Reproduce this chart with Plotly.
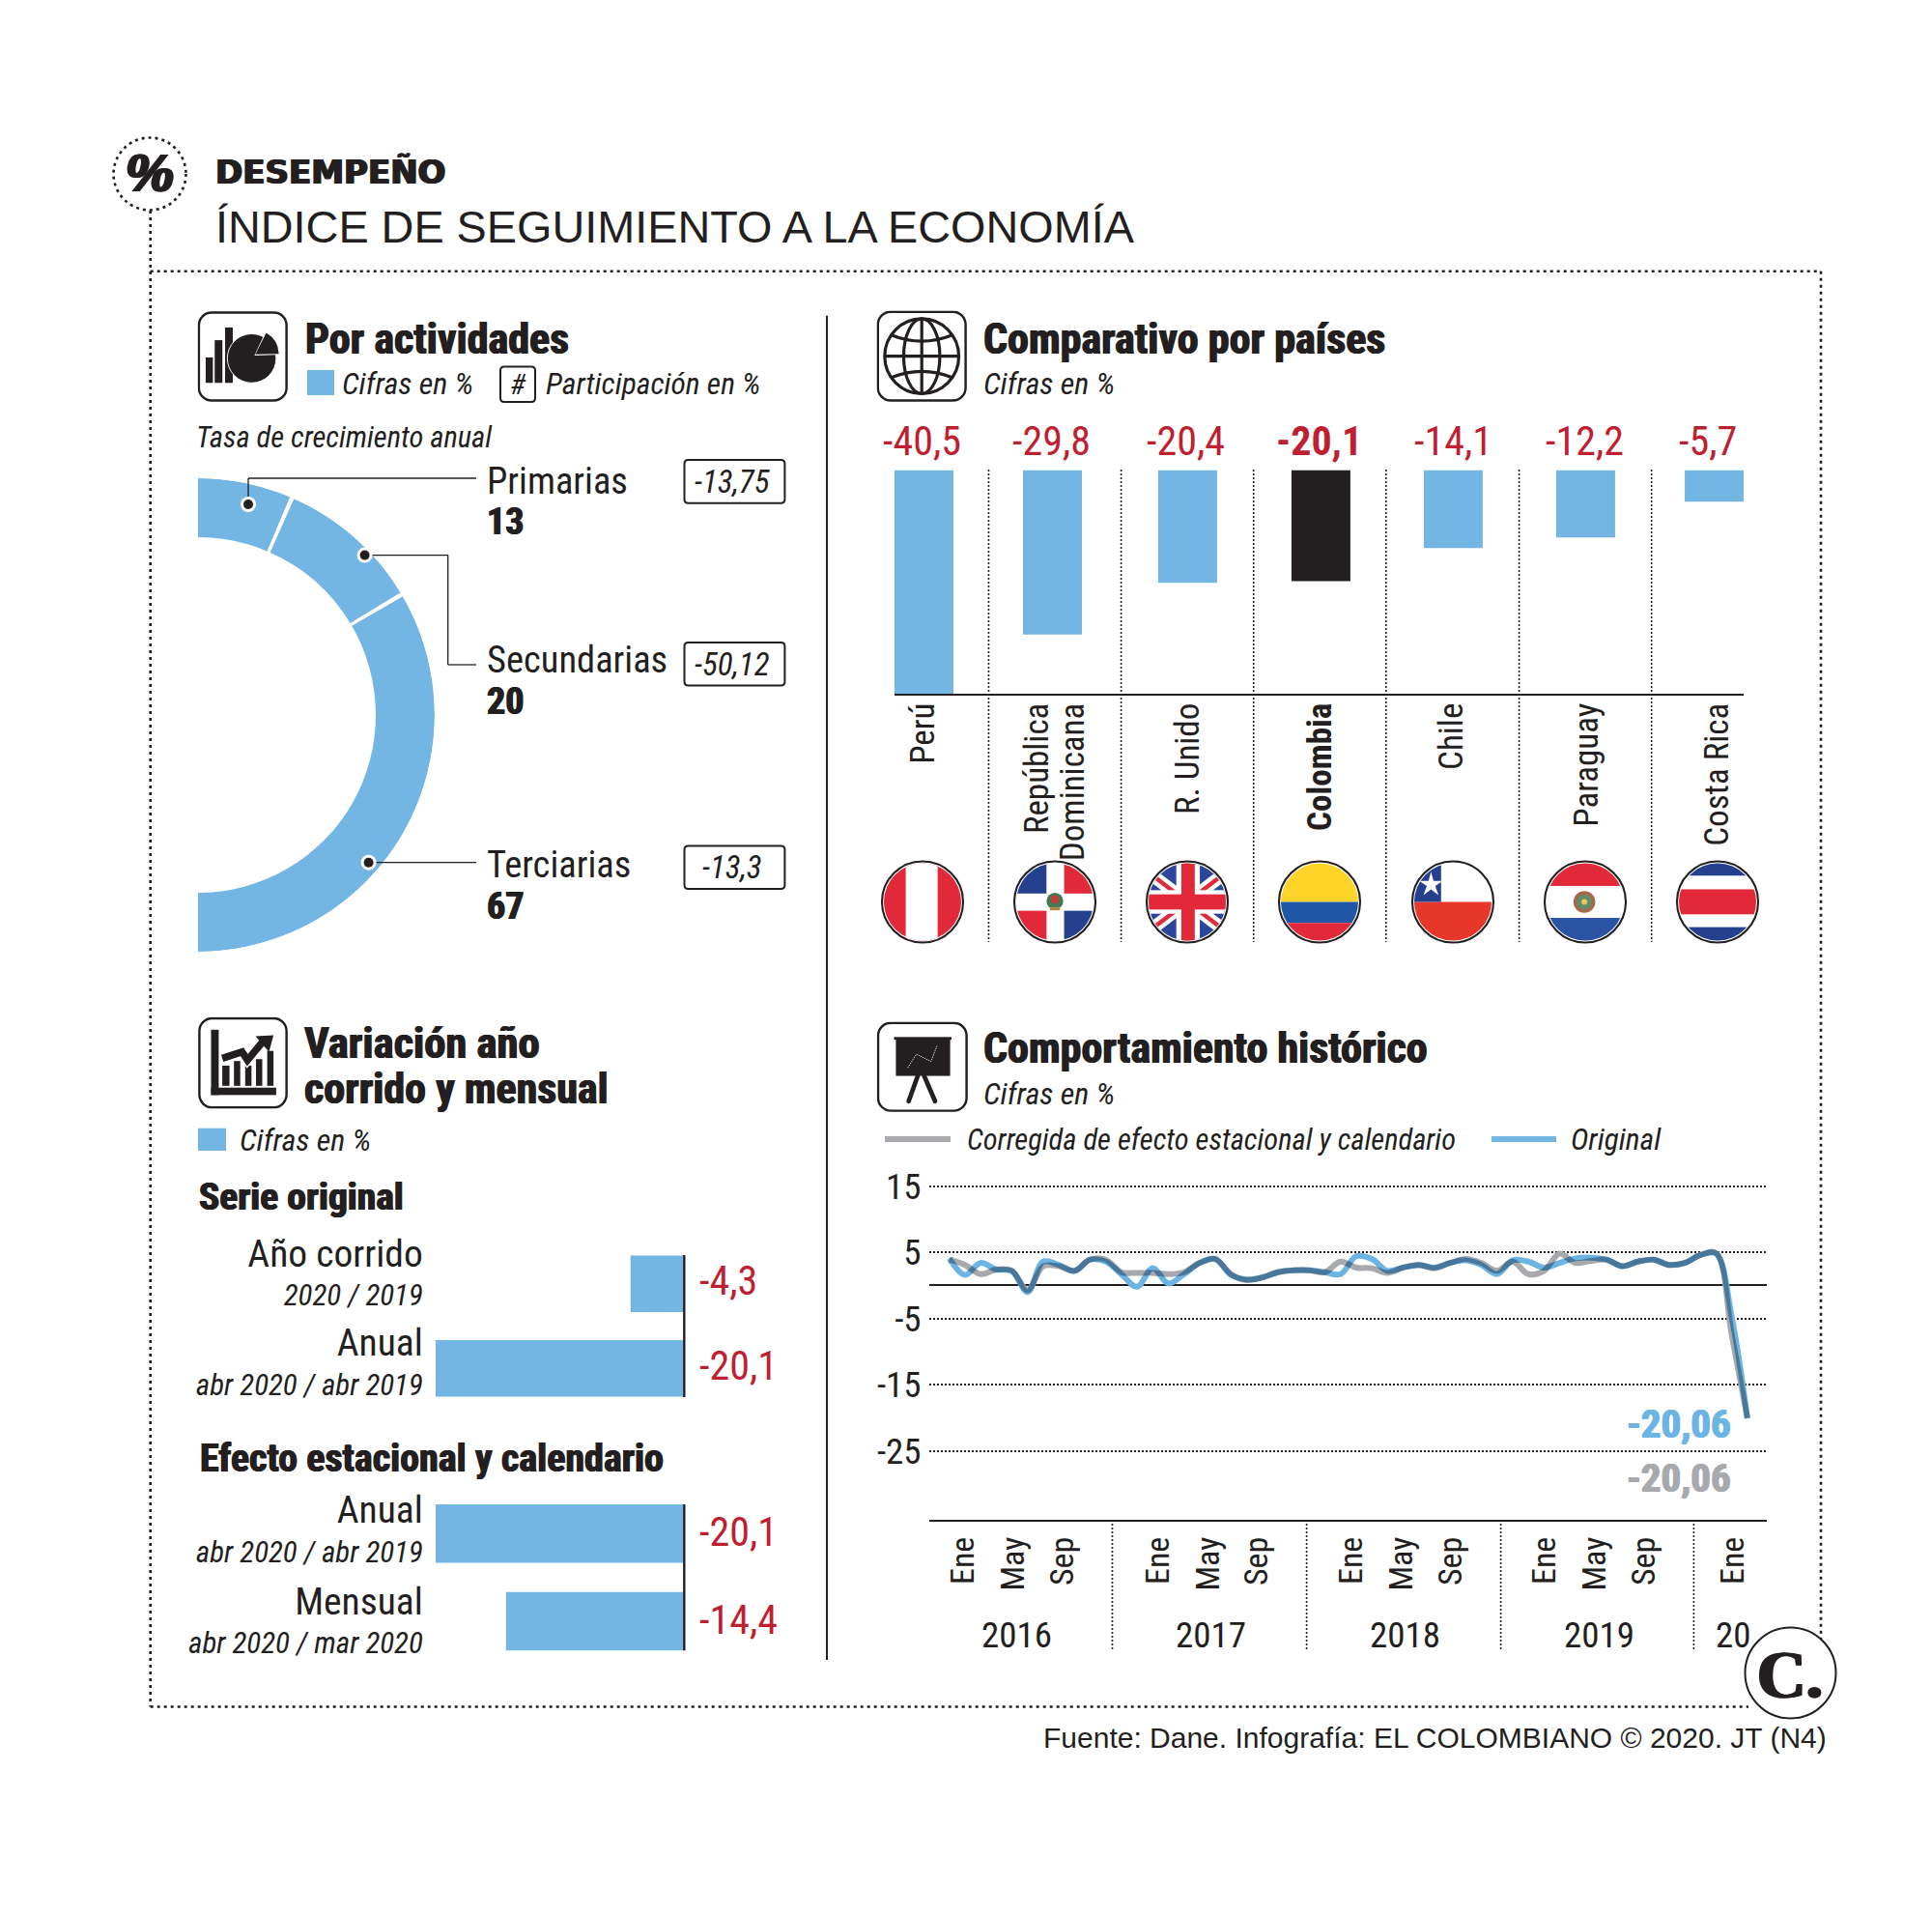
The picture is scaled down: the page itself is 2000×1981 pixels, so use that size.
import base64
import plotly.graph_objects as go

W, H = 2000, 1981
BLUE = "#73B5E3"
INK = "#231F20"
RED = "#BE2031"
GREY = "#A7A9AC"
NARROW = '"Roboto Condensed", Roboto'
SANS = "Liberation Sans"

# ---- data ----
activity_names = ["Primarias", "Secundarias", "Terciarias"]
activity_share = [13, 20, 67]
activity_growth = ["-13,75", "-50,12", "-13,3"]

countries = ["Perú", "República<br>Dominicana", "R. Unido", "<b>Colombia</b>", "Chile", "Paraguay", "Costa Rica"]
country_values = [-40.5, -29.8, -20.4, -20.1, -14.1, -12.2, -5.7]

original_names = ["Año corrido", "Anual"]
original_periods = ["2020 / 2019", "abr 2020 / abr 2019"]
original_values = [-4.3, -20.1]
seasonal_names = ["Anual", "Mensual"]
seasonal_periods = ["abr 2020 / abr 2019", "abr 2020 / mar 2020"]
seasonal_values = [-20.1, -14.4]

hist_original = [4.1, 1.6, 3.4, 2.4, 2.2, -1.0, 3.6, 3.1, 2.2, 3.9, 3.6, 1.7, -0.2, 2.6, 0.3, 1.7,
                 3.4, 4.0, 1.6, 0.9, 1.2, 2.0, 2.3, 2.3, 2.0, 1.7, 4.4, 4.0, 2.2, 2.7, 3.1, 2.7,
                 3.4, 3.8, 3.1, 1.7, 3.8, 3.6, 2.7, 3.4, 4.1, 4.2, 3.9, 2.9, 3.6, 3.9, 3.1, 3.4,
                 4.6, 4.8, -4.8, -20.06]
hist_adjusted = [3.9, 3.1, 1.7, 2.4, 2.2, -0.7, 2.9, 2.9, 2.2, 3.9, 3.9, 2.0, 1.9, 1.9, 1.7, 2.0,
                 3.4, 4.0, 1.7, 0.8, 1.2, 2.0, 2.3, 2.3, 2.0, 3.6, 2.7, 2.6, 1.9, 2.7, 3.1, 2.6,
                 3.4, 4.0, 3.4, 2.2, 3.6, 1.7, 2.2, 4.8, 3.4, 3.7, 3.9, 2.9, 3.6, 3.9, 3.1, 3.4,
                 4.6, 4.9, -7.5, -20.06]
month_ticks = ["Ene", "May", "Sep"] * 4 + ["Ene"]
years = ["2016", "2017", "2018", "2019", "20"]
y_ticks = [15, 5, -5, -15, -25]

# ---- layout slots (axis positions of ticks and labels, not data) ----
month_tick_pos = [0.91, 4.12, 7.21, 13.35, 16.56, 19.65, 25.72, 28.9, 32.03, 38.04, 41.25, 44.4, 50.09]
year_pos = [4.32, 16.7, 29.1, 41.5, 50.09]
country_slots = [0, 0.976, 2.002, 3.014, 4.019, 5.024, 6]
country_tick_slots = [0.01, 1.01, 2.018, 3.02, 4.02, 5.05, 6.04]
country_label_slots = [-0.018, 0.97, 1.99, 3.0, 4.02, 5.02, 5.95]
original_slots = [0, 1]
original_tick_slots = [-0.1, 0.96]
seasonal_slots = [0, 1]
seasonal_tick_slots = [-0.015, 1.02]


def X(p):
    return p / W


def Y(p):
    return 1 - p / H


def fmt(v):
    return f"{v:.1f}".replace(".", ",")


annotations, shapes, images = [], [], []


def txt(x, y, s, size, family=NARROW, color=INK, anchor="left", heavy=False):
    f = dict(family=family, size=size, color=color)
    if heavy:
        w = 0.7 if heavy is True else heavy
        f["shadow"] = f"{w}px 0 0 {color}, -{w}px 0 0 {color}"
    annotations.append(dict(x=X(x), y=Y(y), xref="paper", yref="paper", text=s, showarrow=False,
                            xanchor=anchor, yanchor="middle", font=f, borderpad=0))


def line(x0, y0, x1, y1, color=INK, width=1.5, dash=None, layer="above"):
    shapes.append(dict(type="line", xref="paper", yref="paper", x0=X(x0), y0=Y(y0), x1=X(x1), y1=Y(y1),
                       line=dict(color=color, width=width, dash=dash or "solid"), layer=layer))


def rect(x0, y0, x1, y1, fill=None, color=None, width=0):
    shapes.append(dict(type="rect", xref="paper", yref="paper", x0=X(x0), y0=Y(y0), x1=X(x1), y1=Y(y1),
                       fillcolor=fill or "rgba(0,0,0,0)", line=dict(color=color or "rgba(0,0,0,0)", width=width)))


def circle(cx, cy, r, fill=None, color=None, width=0, dash=None):
    shapes.append(dict(type="circle", xref="paper", yref="paper", x0=X(cx - r), y0=Y(cy - r), x1=X(cx + r), y1=Y(cy + r),
                       fillcolor=fill or "rgba(0,0,0,0)",
                       line=dict(color=color or "rgba(0,0,0,0)", width=width, dash=dash or "solid")))


def rounded(x0, y0, x1, y1, r=5, color=INK, width=2):
    a, b, c, d = x0, y0, x1, y1
    p = [("M", a + r, b), ("L", c - r, b), ("Q", c, b, c, b + r), ("L", c, d - r), ("Q", c, d, c - r, d),
         ("L", a + r, d), ("Q", a, d, a, d - r), ("L", a, b + r), ("Q", a, b, a + r, b)]
    out = []
    for seg in p:
        coords = seg[1:]
        parts = [f"{X(coords[i])},{Y(coords[i + 1])}" for i in range(0, len(coords), 2)]
        out.append(seg[0] + " ".join(parts))
    shapes.append(dict(type="path", xref="paper", yref="paper", path=" ".join(out) + " Z",
                       line=dict(color=color, width=width)))


def svg_image(x0, y0, x1, y1, body):
    svg = f'<svg xmlns="http://www.w3.org/2000/svg" viewBox="0 0 100 100" width="300" height="300">{body}</svg>'
    uri = "data:image/svg+xml;base64," + base64.b64encode(svg.encode()).decode()
    images.append(dict(source=uri, xref="paper", yref="paper", x=X(x0), y=Y(y0), sizex=(x1 - x0) / W, sizey=(y1 - y0) / H,
                       xanchor="left", yanchor="top", sizing="stretch", layer="above"))


def flag(cx, cy, body):
    clip = '<clipPath id="c"><circle cx="50" cy="50" r="46"/></clipPath>'
    ring = f'<circle cx="50" cy="50" r="48.3" fill="none" stroke="{INK}" stroke-width="2.4"/>'
    svg_image(cx - 43.5, cy - 43.5, cx + 43.5, cy + 43.5, f'{clip}<g clip-path="url(#c)">{body}</g>{ring}')


FR, FB, FY = "#E2293A", "#24408E", "#FFD42A"


def bands(*rows):
    return "".join(f'<rect x="0" y="{a}" width="100" height="{b - a}" fill="{c}"/>' for a, b, c in rows)


PERU = f'<rect width="100" height="100" fill="{FR}"/><rect x="30" width="38" height="100" fill="#fff"/>'
DOMINICANA = (f'<rect width="100" height="100" fill="#fff"/><rect width="40" height="40" fill="{FB}"/>'
              f'<rect x="61" width="39" height="40" fill="{FR}"/><rect y="60.5" width="40" height="40" fill="{FR}"/>'
              f'<rect x="61" y="60.5" width="39" height="40" fill="{FB}"/>'
              '<circle cx="50" cy="49" r="10" fill="#3E7A55"/><circle cx="50" cy="47" r="5" fill="#C23A3A"/>'
              '<rect x="44" y="56" width="12" height="4" fill="#B08A3C"/>')
UK = (f'<rect width="100" height="100" fill="#2B479D"/>'
      '<path d="M0 12 L100 88 M100 12 L0 88" stroke="#fff" stroke-width="15"/>'
      f'<path d="M0 12 L100 88 M100 12 L0 88" stroke="{FR}" stroke-width="5"/>'
      '<rect x="37" width="28" height="100" fill="#fff"/><rect y="36" width="100" height="28" fill="#fff"/>'
      f'<rect x="43" width="16" height="100" fill="{FR}"/><rect y="41" width="100" height="18" fill="{FR}"/>')
COLOMBIA = bands((0, 50, FY), (50, 75, "#1F56A6"), (75, 100, FR))
CHILE = (bands((0, 50, "#fff"), (50, 100, "#E9362B")) + f'<rect width="36" height="50" fill="{FB}"/>'
         '<path d="M24 14 L27 25 L38 25 L29 31 L33 42 L24 35 L15 42 L19 31 L10 25 L21 25 Z" fill="#fff"/>')
PARAGUAY = (bands((0, 31, FR), (31, 69, "#fff"), (69, 100, "#2A53A4")) +
            '<circle cx="49" cy="50" r="13" fill="#A8684A"/><circle cx="49" cy="50" r="9" fill="#5F8E68"/>'
            '<circle cx="49" cy="50" r="3.5" fill="#E6C85A"/>')
COSTA = bands((0, 19, FB), (19, 35, "#fff"), (35, 65, FR), (65, 80, "#fff"), (80, 100, FB))
flags = [PERU, DOMINICANA, UK, COLOMBIA, CHILE, PARAGUAY, COSTA]
flag_cx = [955, 1092, 1229, 1366, 1504, 1641, 1778]
for cx, body in zip(flag_cx, flags):
    flag(cx, 933.5, body)

BOX = f'<rect x="1.5" y="1.5" width="97" height="97" rx="14" fill="#fff" stroke="{INK}" stroke-width="2.6"/>'
ICON_PIE = (BOX + f'<g fill="{INK}"><rect x="9" y="51" width="8" height="28"/><rect x="19" y="32" width="8.5" height="47"/>'
            '<rect x="30.5" y="18" width="8.5" height="61"/><circle cx="60" cy="52" r="27" stroke="#fff" stroke-width="1"/></g>'
            '<path d="M63 49 L76 21 L95 48 Z" fill="#fff"/>'
            f'<path d="M64 47.5 L76 24 A28 28 0 0 1 90 47 Z" fill="{INK}"/>')
ICON_GLOBE = (BOX + f'<g fill="none" stroke="{INK}" stroke-width="3.4"><circle cx="50" cy="50" r="41"/>'
              '<ellipse cx="50" cy="50" rx="20" ry="41"/><path d="M50 9 V91 M9 50 H91"/>'
              '<path d="M17 27 Q50 40 83 27 M17 73 Q50 60 83 73"/></g>')
ICON_CHART = (BOX + f'<g fill="{INK}"><rect x="14.5" y="14" width="8.5" height="71"/><rect x="14.5" y="77" width="72.5" height="8"/>'
              '<rect x="27" y="53" width="8" height="22"/><rect x="40" y="48" width="7" height="27"/>'
              '<rect x="52.5" y="53" width="7" height="22"/><rect x="64.5" y="46" width="7" height="29"/>'
              '<rect x="77" y="37" width="7" height="38"/></g>'
              '<path d="M27 45 L49 38 L55 47 L72 27" fill="none" stroke="#fff" stroke-width="11"/>'
              f'<path d="M27 45 L49 38 L55 47 L72 27" fill="none" stroke="{INK}" stroke-width="8"/>'
              f'<path d="M64 21 L84 20 L79 38 Z" fill="{INK}"/>')
ICON_BOARD = (BOX + f'<rect x="19" y="17" width="63" height="3" fill="{INK}"/><rect x="21" y="19" width="59.5" height="41" fill="{INK}"/>'
              f'<path d="M45 60 L35 88 M52 60 L64 88" stroke="{INK}" stroke-width="5" stroke-linecap="round" fill="none"/>'
              '<path d="M34 51 L43.5 36 L59.5 44 L66 27" fill="none" stroke="#ddd" stroke-width="1" stroke-dasharray="1.5 1"/>')
svg_image(204.5, 322, 298, 416, ICON_PIE)
svg_image(907.4, 321.4, 1001, 416, ICON_GLOBE)
svg_image(205, 1052.5, 298, 1147.6, ICON_CHART)
svg_image(907.6, 1057.4, 1002, 1151, ICON_BOARD)

# ---- frame ----
DOT = "3px,4px"
line(155.7, 218, 155.7, 1766.5, width=2.6, dash=DOT)
line(155.7, 280.7, 1885, 280.7, width=2.6, dash=DOT)
line(1885, 280.7, 1885, 1700, width=2.6, dash=DOT)
line(155.7, 1766.5, 1810, 1766.5, width=2.6, dash=DOT)
line(856, 326.7, 856, 1718, width=2)
circle(155, 180, 37.5, color=INK, width=2.6, dash=DOT)
txt(155, 178, "<b><i>%</i></b>", 56, family=SANS, anchor="center", heavy=1.6)
txt(222, 178, "<b>DESEMPEÑO</b>", 34, family="DejaVu Sans", heavy=1.0)
txt(222, 235, "ÍNDICE DE SEGUIMIENTO A LA ECONOMÍA", 46.8, family=SANS)

# ---- headers ----
txt(315, 351, "<b>Por actividades</b>", 44, heavy=True)
rect(318, 383, 346, 409, fill=BLUE)
txt(353, 397, "<i>Cifras en %</i>", 32)
rounded(518, 379.5, 554, 416, r=4)
txt(536, 398, "<i>#</i>", 30, anchor="center")
txt(564, 397, "<i>Participación en %</i>", 31.5)
txt(202, 452, "<i>Tasa de crecimiento anual</i>", 30.5)

txt(1017, 351, "<b>Comparativo por países</b>", 44, heavy=True)
txt(1017, 397, "<i>Cifras en %</i>", 32)

txt(314, 1080, "<b>Variación año</b>", 44.5, heavy=True)
txt(314, 1127, "<b>corrido y mensual</b>", 44, heavy=True)
rect(205, 1167.7, 234, 1191, fill=BLUE)
txt(247, 1180, "<i>Cifras en %</i>", 32)
txt(205, 1238.7, "<b>Serie original</b>", 39.5, heavy=True)
txt(206, 1509.6, "<b>Efecto estacional y calendario</b>", 40, heavy=True)

txt(1017, 1085, "<b>Comportamiento histórico</b>", 44, heavy=True)
txt(1017, 1132, "<i>Cifras en %</i>", 32)
line(916, 1179, 984, 1179, color=GREY, width=6)
txt(999.5, 1179, "<i>Corregida de efecto estacional y calendario</i>", 30.5)
line(1544, 1179, 1611, 1179, color=BLUE, width=6)
txt(1625, 1179, "<i>Original</i>", 31.5)

# ---- donut annotations ----
label_y = [497, 682.6, 895]
share_y = [540, 725.6, 938]
box_y = [(476, 520.7), (665, 709.5), (875.5, 920)]
for name, share, growth, ly, sy, (b0, b1) in zip(activity_names, activity_share, activity_growth, label_y, share_y, box_y):
    txt(503, ly, name, 38.5)
    txt(503, sy, f"<b>{share}</b>", 38, heavy=True)
    rounded(708.5, b0, 812.4, b1, r=4)
    txt(758, (b0 + b1) / 2, f"<i>{growth}</i>", 33, anchor="center")
line(257, 522, 257, 495, width=1.3)
line(257, 495, 493, 495, width=1.3)
line(377.6, 574.6, 463.7, 574.6, width=1.3)
line(463.7, 574.6, 463.7, 688, width=1.3)
line(463.7, 688, 493, 688, width=1.3)
line(381.6, 892.7, 493, 892.7, width=1.3)
for cx, cy in [(257, 522), (377.6, 574.6), (381.6, 892.7)]:
    circle(cx, cy, 8, fill="#fff")
    circle(cx, cy, 5, fill=INK)

# ---- country separators ----
for sx in [1023.5, 1160.6, 1297.7, 1434.8, 1572.6, 1709.7]:
    line(sx, 486, sx, 975, width=1.6, dash="2px,2px")

# ---- history decoration ----
for sx in [1151.5, 1352.6, 1553.6, 1753.4]:
    line(sx, 1573, sx, 1707, width=1.6, dash="2px,2px")

# ---- logo / source ----
circle(1853.5, 1731.5, 47, fill="#fff", color=INK, width=2)
txt(1853, 1733, "<b>C.</b>", 70, family="Liberation Serif", anchor="center", heavy=1.4)
txt(1892, 1798.5, "Fuente: Dane. Infografía: EL COLOMBIANO © 2020. JT (N4)", 30, family=SANS, anchor="right")

fig = go.Figure()

# Donut
cum = 0
thetas, widths, edges = [], [], []
for s in activity_share:
    widths.append(s * 1.8)
    thetas.append((cum + s / 2) * 1.8)
    cum += s
    edges.append(cum * 1.8)
fig.add_trace(go.Barpolar(r=[61] * 3, base=[184] * 3, theta=thetas, width=widths, subplot="polar",
                          marker=dict(color=BLUE, line=dict(width=0)), showlegend=False))
fig.add_trace(go.Barpolar(r=[63] * 2, base=[183] * 2, theta=edges[:2], width=[1.05] * 2, subplot="polar",
                          marker=dict(color="#fff", line=dict(width=0)), showlegend=False))

# Countries
fig.add_trace(go.Bar(x=country_slots, y=country_values, width=0.447, xaxis="x", yaxis="y",
                     marker=dict(color=[BLUE, BLUE, BLUE, INK, BLUE, BLUE, BLUE], line_width=0), showlegend=False))
for c, v, slot in zip(countries, country_values, country_label_slots):
    s = fmt(v)
    annotations.append(dict(x=slot, y=0, xref="x", yref="y", yshift=30, yanchor="middle", showarrow=False,
                            text=f"<b>{s}</b>" if c.startswith("<b>") else s,
                            font=dict(family=NARROW, size=42, color=RED)))

# Horizontal bars
AXIS_X = 708.3
for vals, slots, xa, ya, top, bottom, ys in [
    (original_values, original_slots, "x2", "y2", 1299, 1446, 3),
    (seasonal_values, seasonal_slots, "x3", "y3", 1557, 1708.3, 2),
]:
    fig.add_trace(go.Bar(x=vals, y=slots, orientation="h", width=0.67, xaxis=xa, yaxis=ya,
                         marker=dict(color=BLUE, line_width=0), showlegend=False))
    for s, v in zip(slots, vals):
        annotations.append(dict(x=0, y=s, xref=xa, yref=ya, xshift=14, xanchor="left", yshift=ys, showarrow=False,
                                text=fmt(v), font=dict(family=NARROW, size=42, color=RED)))
    line(AXIS_X, top, AXIS_X, bottom, width=2.4)

# History
idx = list(range(len(hist_original)))
fig.add_trace(go.Scatter(x=idx, y=hist_adjusted, mode="lines", xaxis="x4", yaxis="y4", showlegend=False,
                         line=dict(color=GREY, width=6, shape="spline", smoothing=1.0)))
fig.add_trace(go.Scatter(x=idx, y=hist_original, mode="lines", xaxis="x4", yaxis="y4", showlegend=False,
                         line=dict(color="#6CB4E4", width=6, shape="spline", smoothing=1.0)))
for yr, pos in zip(years, year_pos):
    annotations.append(dict(x=pos, y=Y(1692), xref="x4", yref="paper", yanchor="middle", text=yr, showarrow=False,
                            font=dict(family=NARROW, size=37, color=INK)))
txt(1793, 1473.5, "<b>-20,06</b>", 41, color="#6CB4E4", anchor="right", heavy=True)
txt(1793, 1530, "<b>-20,06</b>", 41, color=GREY, anchor="right", heavy=True)

tick_hidden = dict(ticks="outside", tickcolor="rgba(0,0,0,0)", tickwidth=0, automargin=False)


def dom_x(a, b):
    return [X(a), X(b)]


def dom_y(top, bottom):
    return [Y(bottom), Y(top)]


def country_text(name):
    return "<br>".join(f'<span style="font-size:35px">{part}</span>' for part in name.split("<br>"))


def bar_text(name, period):
    return f'<span style="font-size:39.5px">{name}</span><br><i>{period}</i>'


fig.update_layout(
    template="none",
    width=W, height=H, margin=dict(l=0, r=0, t=0, b=0, pad=0), autosize=False,
    paper_bgcolor="#fff", plot_bgcolor="rgba(0,0,0,0)", showlegend=False,
    barmode="overlay",
    polar=dict(domain=dict(x=dom_x(205, 450), y=dom_y(495, 985)), sector=[-90, 90], bgcolor="rgba(0,0,0,0)",
               radialaxis=dict(visible=False, range=[0, 245]),
               angularaxis=dict(visible=False, direction="clockwise", rotation=90, thetaunit="degrees")),
    xaxis=dict(domain=dom_x(926, 1805), range=[-0.2235, 6.2235], anchor="y", tickmode="array",
               tickvals=country_tick_slots, ticktext=[country_text(c) for c in countries],
               showline=True, linecolor=INK, linewidth=2.2, showgrid=False, zeroline=False, tickangle=-90,
               tickfont=dict(family=NARROW, size=29, color=INK), ticklen=0, ticklabelstandoff=-4, **tick_hidden),
    yaxis=dict(domain=dom_y(486.6, 718), range=[-40.5, 0], anchor="x", visible=False),
    xaxis2=dict(domain=dom_x(451, 707.7), range=[-20.1, 0], anchor="y2", visible=False),
    yaxis2=dict(domain=dom_y(1299, 1446), range=[1.34, -0.34], anchor="x2", showline=False,
                showgrid=False, zeroline=False, ticklen=6, tickfont=dict(family=NARROW, size=31, color=INK),
                tickmode="array", tickvals=original_tick_slots,
                ticktext=[bar_text(n, p) for n, p in zip(original_names, original_periods)],
                **tick_hidden),
    xaxis3=dict(domain=dom_x(451, 707.7), range=[-20.1, 0], anchor="y3", visible=False),
    yaxis3=dict(domain=dom_y(1557, 1708.3), range=[1.33, -0.33], anchor="x3", showline=False,
                showgrid=False, zeroline=False, ticklen=6, tickfont=dict(family=NARROW, size=31, color=INK),
                tickmode="array", tickvals=seasonal_tick_slots,
                ticktext=[bar_text(n, p) for n, p in zip(seasonal_names, seasonal_periods)],
                **tick_hidden),
    xaxis4=dict(domain=dom_x(962, 1829), range=[-1.278, 52.24], anchor="y4", showgrid=False, zeroline=False,
                showline=True, linecolor=INK, linewidth=2.2, tickmode="array", tickvals=month_tick_pos,
                ticktext=month_ticks, tickangle=-90, tickfont=dict(family=NARROW, size=34, color=INK),
                ticklen=2, **tick_hidden),
    yaxis4=dict(domain=dom_y(1225.6, 1573), range=[-35.4, 15.3], anchor="x4", tickmode="array", tickvals=y_ticks,
                ticktext=[str(v) for v in y_ticks], tickfont=dict(family=NARROW, size=37, color=INK),
                showline=False, showgrid=True, gridcolor=INK, gridwidth=1.6, griddash="2px,2px",
                zeroline=True, zerolinecolor=INK, zerolinewidth=1.8, ticklen=0, **tick_hidden),
    annotations=annotations, shapes=shapes, images=images,
)

POST = """
document.body.style.margin = '0';
var st = document.createElement('style');
st.textContent = 'text[style*="Roboto"], text[style*="Roboto"] tspan { font-stretch: 75% !important; }';
document.head.appendChild(st);
var gd = document.getElementById('{plot_id}');
function blend() {
  var ls = gd.querySelectorAll('.scatterlayer .trace');
  if (ls.length) { ls[ls.length - 1].style.mixBlendMode = 'multiply'; }
}
Promise.resolve(Plotly.redraw(gd)).then(blend);
blend();
"""
fig.write_html("out.html", post_script=POST, config={"displayModeBar": False})
